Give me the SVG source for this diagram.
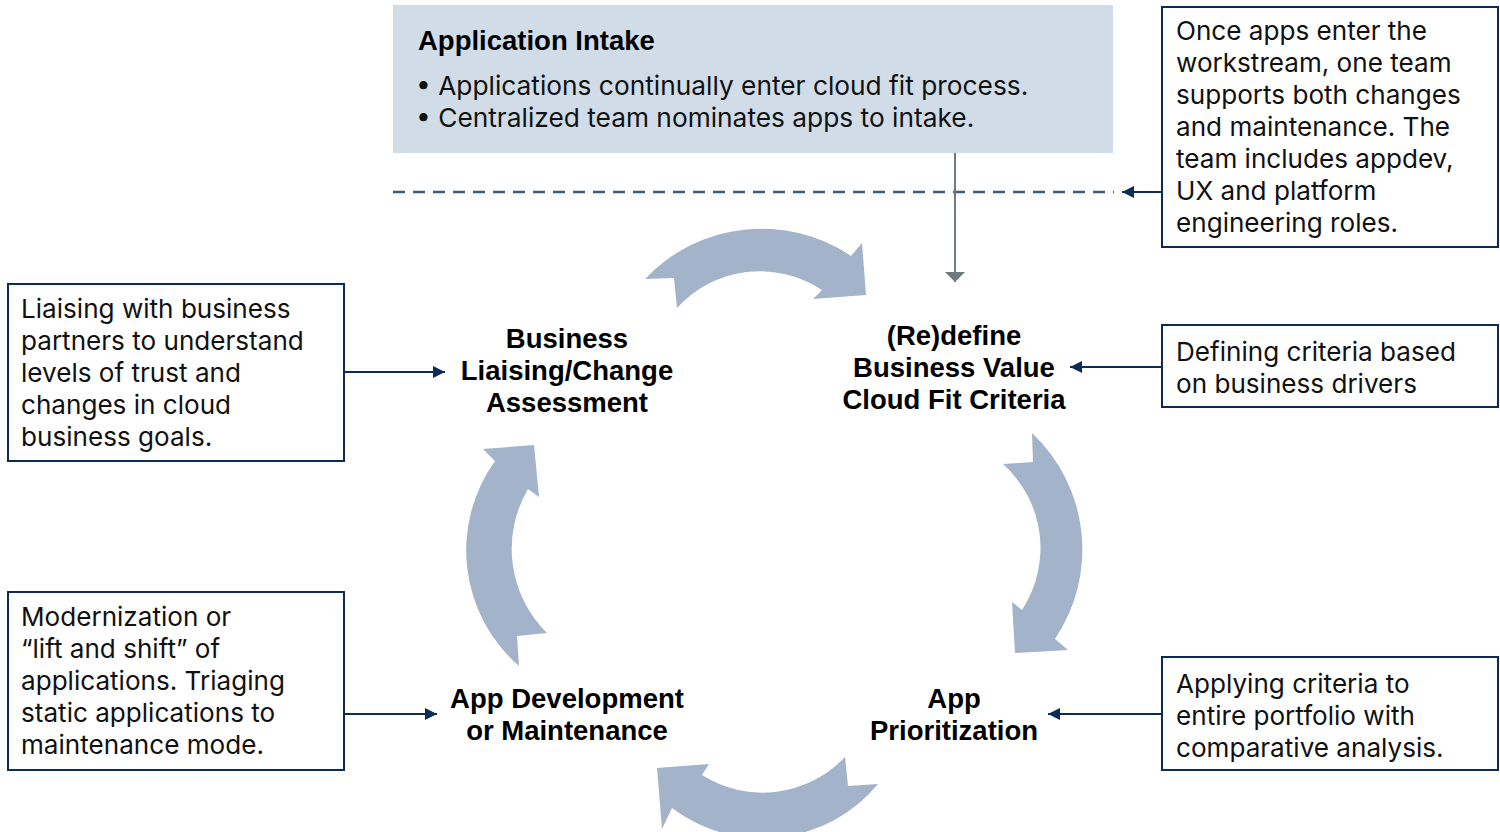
<svg xmlns="http://www.w3.org/2000/svg" width="1500" height="832" viewBox="0 0 1500 832">
<defs>
<style>
.body{font-family:Inter,"Liberation Sans",sans-serif;font-size:26.1px;fill:#111}
.intk{font-family:Inter,"Liberation Sans",sans-serif;font-size:26.3px;fill:#111}
.lbl{font-family:"Liberation Sans",Arial,sans-serif;font-weight:700;font-size:27.5px;fill:#000;text-anchor:middle}
.title{font-family:"Liberation Sans",Arial,sans-serif;font-weight:700;font-size:27.5px;fill:#000}
.box{fill:#fff;stroke:#0c2b57;stroke-width:2}
.cyc{fill:#a2b3ca}
.conn{stroke:#0c2b57;stroke-width:2;fill:none}
</style>
<marker id="navyHead" viewBox="0 0 10 10" refX="10" refY="5" markerWidth="12" markerHeight="14" markerUnits="userSpaceOnUse" orient="auto">
<path d="M0,0 L10,5 L0,10 Z" fill="#0c2b57"/>
</marker>
</defs>
<g id="intake">
<rect x="393" y="5" width="720" height="148" fill="#d0dde8"/>
<text class="title" x="418" y="50">Application Intake</text>
<text class="intk" x="416" y="95">• Applications continually enter cloud fit process.</text>
<text class="intk" x="416" y="127">• Centralized team nominates apps to intake.</text>
</g>
<g id="cycle-arrows">
<path class="cyc" d="M645,279 A160,160 0 0 1 851,256 L862,243 L866,295 L813,299 L822,290 A112,112 0 0 0 677,308 L674,278 Z"/>
<path class="cyc" d="M1032,433 L1033,462 L1003,464 A113,113 0 0 1 1022,610 L1012,602 L1015,653 L1068,650 L1055,639 A160,160 0 0 0 1032,433 Z"/>
<path class="cyc" d="M878,784 L848,786 L845,757 A113,113 0 0 1 702,775 L709,764 L657,768 L662,829 L672,808 A150,150 0 0 0 878,784 Z"/>
<path class="cyc" d="M519,666 L517,636 L547,633 A118,118 0 0 1 528,489 L539,497 L534,445 L483,449 L495,461 A153,153 0 0 0 519,666 Z"/>
</g>
<g id="node-business">
<text class="lbl" x="567" y="348">Business</text>
<text class="lbl" x="567" y="380">Liaising/Change</text>
<text class="lbl" x="567" y="412">Assessment</text>
</g>
<g id="node-redefine">
<text class="lbl" x="954" y="345">(Re)define</text>
<text class="lbl" x="954" y="377">Business Value</text>
<text class="lbl" x="954" y="409">Cloud Fit Criteria</text>
</g>
<g id="node-appdev">
<text class="lbl" x="567" y="708">App Development</text>
<text class="lbl" x="567" y="740">or Maintenance</text>
</g>
<g id="node-prioritization">
<text class="lbl" x="954" y="708">App</text>
<text class="lbl" x="954" y="740">Prioritization</text>
</g>
<g id="note-team">
<rect class="box" x="1162" y="7" width="336" height="240"/>
<text class="body" x="1176" y="40">Once apps enter the</text>
<text class="body" x="1176" y="72">workstream, one team</text>
<text class="body" x="1176" y="104">supports both changes</text>
<text class="body" x="1176" y="136">and maintenance. The</text>
<text class="body" x="1176" y="168">team includes appdev,</text>
<text class="body" x="1176" y="200">UX and platform</text>
<text class="body" x="1176" y="232">engineering roles.</text>
</g>
<g id="note-criteria">
<rect class="box" x="1162" y="325" width="336" height="82"/>
<text class="body" x="1176" y="361">Defining criteria based</text>
<text class="body" x="1176" y="393">on business drivers</text>
</g>
<g id="note-applying">
<rect class="box" x="1162" y="657" width="336" height="113"/>
<text class="body" x="1176" y="693">Applying criteria to</text>
<text class="body" x="1176" y="725">entire portfolio with</text>
<text class="body" x="1176" y="757">comparative analysis.</text>
</g>
<g id="note-liaising">
<rect class="box" x="8" y="284" width="336" height="177"/>
<text class="body" x="21" y="318">Liaising with business</text>
<text class="body" x="21" y="350">partners to understand</text>
<text class="body" x="21" y="382">levels of trust and</text>
<text class="body" x="21" y="414">changes in cloud</text>
<text class="body" x="21" y="446">business goals.</text>
</g>
<g id="note-modernization">
<rect class="box" x="8" y="592" width="336" height="178"/>
<text class="body" x="21" y="626">Modernization or</text>
<text class="body" x="21" y="658">“lift and shift” of</text>
<text class="body" x="21" y="690">applications. Triaging</text>
<text class="body" x="21" y="722">static applications to</text>
<text class="body" x="21" y="754">maintenance mode.</text>
</g>
<g id="connectors">
<line x1="393" y1="192" x2="1114" y2="192" stroke="#3e5a7e" stroke-width="2.5" stroke-dasharray="12,8"/>
<line class="conn" x1="1162" y1="192" x2="1122" y2="192" marker-end="url(#navyHead)"/>
<line x1="955" y1="153" x2="955" y2="282" stroke="#6f7a7e" stroke-width="2"/>
<path d="M945,272 L965,272 L955,282 Z" fill="#6f7a7e"/>
<line class="conn" x1="1162" y1="367" x2="1070" y2="367" marker-end="url(#navyHead)"/>
<line class="conn" x1="1162" y1="714" x2="1048" y2="714" marker-end="url(#navyHead)"/>
<line class="conn" x1="344" y1="372" x2="445" y2="372" marker-end="url(#navyHead)"/>
<line class="conn" x1="344" y1="714" x2="437" y2="714" marker-end="url(#navyHead)"/>
</g>
</svg>
